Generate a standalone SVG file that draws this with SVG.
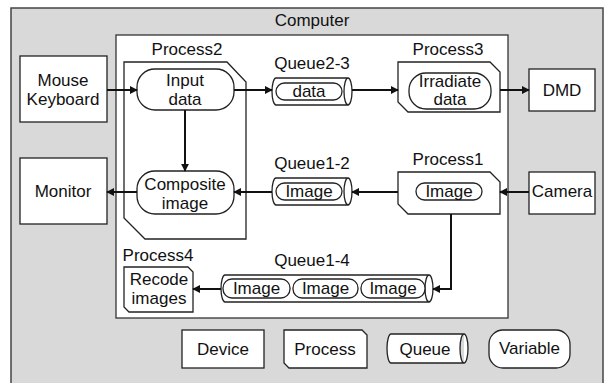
<svg xmlns="http://www.w3.org/2000/svg" width="609" height="383" viewBox="0 0 609 383">
<defs>
<style>
text{font-family:"Liberation Sans",Arial,sans-serif;font-size:17px;fill:#111;text-anchor:middle}
.sh{fill:#fff;stroke:#222;stroke-width:1.3}
.cn{fill:none;stroke:#111;stroke-width:2}
</style>
<marker id="ah" viewBox="0 0 10 10" refX="9" refY="5" markerWidth="4" markerHeight="4" orient="auto" markerUnits="strokeWidth">
<path d="M0,0 L10,5 L0,10 z" fill="#111"/>
</marker>
</defs>
<g id="computer">
<rect x="11" y="8" width="592" height="380" fill="#d9d9d9" stroke="#444" stroke-width="1.5"/>
<text x="312" y="26">Computer</text>
<rect x="116" y="35" width="392" height="283" fill="#fff" stroke="#333" stroke-width="1.3"/>
</g>
<g id="mouse-keyboard">
<rect class="sh" x="20" y="56" width="87" height="66"/>
<text x="63" y="86">Mouse</text>
<text x="63" y="105">Keyboard</text>
</g>
<g id="monitor">
<rect class="sh" x="20" y="158" width="87" height="66"/>
<text x="63" y="197">Monitor</text>
</g>
<g id="dmd">
<rect class="sh" x="529" y="69" width="66" height="42"/>
<text x="562" y="96">DMD</text>
</g>
<g id="camera">
<rect class="sh" x="529" y="172" width="66" height="42"/>
<text x="562" y="197">Camera</text>
</g>
<g id="process2">
<text x="187" y="55">Process2</text>
<path class="sh" d="M124,62 H227 L246,82 V239 H145 L124,218 Z"/>
<rect class="sh" x="137" y="69" width="97" height="41" rx="18"/>
<text x="185" y="86">Input</text>
<text x="185" y="105">data</text>
<rect class="sh" x="137" y="171" width="97" height="43" rx="18"/>
<text x="185" y="190">Composite</text>
<text x="185" y="209">image</text>
</g>
<g id="process3">
<text x="448" y="55">Process3</text>
<path class="sh" d="M398,62 H490 L500,72 V112 H408 L398,102 Z"/>
<rect class="sh" x="409" y="73" width="82" height="36" rx="17"/>
<text x="450" y="87">Irradiate</text>
<text x="450" y="105">data</text>
</g>
<g id="process1">
<text x="448" y="165">Process1</text>
<path class="sh" d="M398,172 H490 L500,182 V214 H408 L398,204 Z"/>
<rect class="sh" x="416" y="183" width="66" height="17" rx="8.5"/>
<text x="449" y="197">Image</text>
</g>
<g id="process4">
<text x="158" y="261">Process4</text>
<path class="sh" d="M124,267 H188 L193,272 V312 H129 L124,307 Z"/>
<text x="159" y="285">Recode</text>
<text x="159" y="304">images</text>
</g>
<g id="queue2-3">
<text x="312" y="69">Queue2-3</text>
<path class="sh" d="M276,78 H348 A4,13.5 0 0 1 348,105 H276 A4,13.5 0 0 1 276,78 Z M348,78 A4,13.5 0 0 0 348,105"/>
<rect class="sh" x="276" y="83" width="66" height="17" rx="8.5"/>
<text x="309" y="97">data</text>
</g>
<g id="queue1-2">
<text x="312" y="169">Queue1-2</text>
<path class="sh" d="M276,178 H348 A4,13.5 0 0 1 348,205 H276 A4,13.5 0 0 1 276,178 Z M348,178 A4,13.5 0 0 0 348,205"/>
<rect class="sh" x="276" y="183" width="66" height="17" rx="8.5"/>
<text x="309" y="197">Image</text>
</g>
<g id="queue1-4">
<text x="312" y="266">Queue1-4</text>
<path class="sh" d="M225,275 H429 A4,13.5 0 0 1 429,302 H225 A4,13.5 0 0 1 225,275 Z M429,275 A4,13.5 0 0 0 429,302"/>
<rect class="sh" x="223" y="279" width="67" height="19" rx="9"/>
<text x="256.5" y="294">Image</text>
<rect class="sh" x="293" y="279" width="65" height="19" rx="9"/>
<text x="325.5" y="294">Image</text>
<rect class="sh" x="361" y="279" width="64" height="19" rx="9"/>
<text x="393" y="294">Image</text>
</g>
<g id="legend-device">
<rect class="sh" x="182" y="330" width="82" height="38"/>
<text x="223" y="355">Device</text>
</g>
<g id="legend-process">
<path class="sh" d="M284,330 H362 L367,335 V368 H289 L284,363 Z"/>
<text x="325" y="355">Process</text>
</g>
<g id="legend-queue">
<path class="sh" d="M391,334 H464 A4,14.5 0 0 1 464,363 H391 A4,14.5 0 0 1 391,334 Z M464,334 A4,14.5 0 0 0 464,363"/>
<text x="425" y="355">Queue</text>
</g>
<g id="legend-variable">
<rect class="sh" x="489" y="330" width="81" height="38" rx="14"/>
<text x="529.5" y="354">Variable</text>
</g>
<g id="connectors">
<path class="cn" d="M107,90 H137" marker-end="url(#ah)"/>
<path class="cn" d="M234,90 H272" marker-end="url(#ah)"/>
<path class="cn" d="M352,90 H398" marker-end="url(#ah)"/>
<path class="cn" d="M500,90 H529" marker-end="url(#ah)"/>
<path class="cn" d="M185,110 V171" marker-end="url(#ah)"/>
<path class="cn" d="M529,192 H500" marker-end="url(#ah)"/>
<path class="cn" d="M398,192 H352" marker-end="url(#ah)"/>
<path class="cn" d="M272,192 H234" marker-end="url(#ah)"/>
<path class="cn" d="M137,192 H107" marker-end="url(#ah)"/>
<path class="cn" d="M451,214 V289 H433" marker-end="url(#ah)"/>
<path class="cn" d="M221,289 H193" marker-end="url(#ah)"/>
</g>
</svg>
